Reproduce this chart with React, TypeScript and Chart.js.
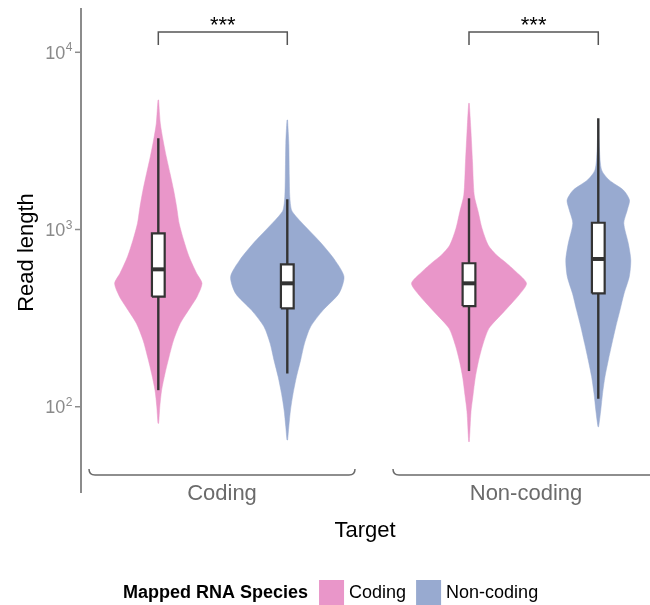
import React, { useEffect, useRef } from "react";
import { Chart, registerables } from "chart.js";

Chart.register(...registerables);

const FONT = "'Liberation Sans', Arial, Helvetica, sans-serif";

// ---- categories / species ----
const categories = ["Coding", "Non-coding"];
const categoryX = [1, 2];
const speciesNames = ["Coding", "Non-coding"];
const speciesColors = ["#E996C9", "#98AAD0"];
const legendTitle = "Mapped RNA Species";
const xTitle = "Target";
const yTitle = "Read length";

// ---- violin positions (category + dodge) and species ----
const violinX = [0.7905, 1.2148, 1.8125, 2.2378];
const violinSpecies = [0, 1, 0, 1];

// ---- violin profiles: read length values and relative density (half width) ----
const codingCodingValues = [5383, 3974, 3200, 2576, 2075, 1671, 1345, 1084, 873, 702, 566, 497, 418, 367, 296, 238, 191, 154, 124, 100, 80.6];
const codingCodingDensity = [0.3, 2, 4.7, 8, 11.7, 15.3, 18.3, 20.8, 25.3, 30.8, 38.3, 43.7, 38.8, 32.5, 22, 15.3, 10.7, 6.7, 3.3, 1.5, 0.3];

const codingNonValues = [4150, 3062, 1986, 1531, 1289, 1181, 1037, 836, 673, 542, 436, 351, 283, 228, 183, 148, 119, 95.8, 77.1, 64.9];
const codingNonDensity = [0.3, 1.5, 2, 2.5, 4.2, 9, 18.3, 34, 47.5, 56.7, 51.7, 35.8, 23.3, 17.2, 13.3, 9.2, 5.8, 3.2, 1.5, 0.3];

const nonCodingValues = [5154, 3725, 2414, 1565, 1260, 1016, 817, 718, 658, 578, 497, 427, 344, 277, 223, 179, 145, 116, 93.7, 63.5];
const nonCodingDensity = [0.3, 1.8, 3.5, 5.2, 9.2, 13, 19.2, 27.5, 35.8, 47, 57.5, 50, 35, 20, 13.7, 9.3, 6.2, 4, 2, 0.3];

const nonNonValues = [4200, 2810, 2167, 1902, 1671, 1467, 1289, 1084, 836, 673, 542, 436, 351, 283, 228, 183, 148, 119, 95.8, 77.1];
const nonNonDensity = [0.3, 1.2, 3.3, 10.8, 25, 31.2, 29, 25.5, 30, 32.5, 31, 25.8, 21.7, 17.5, 13.7, 10, 6.7, 4.3, 2.5, 0.3];

const violinValues = [codingCodingValues, codingNonValues, nonCodingValues, nonNonValues];
const violinDensity = [codingCodingDensity, codingNonDensity, nonCodingDensity, nonNonDensity];

// ---- box plot statistics ----
const boxLow = [124, 154, 159, 111];
const boxQ1 = [418, 359, 370, 436];
const boxMedian = [596, 497, 497, 682];
const boxQ3 = [952, 636, 645, 1092];
const boxHigh = [3273, 1481, 1500, 4242];

// ---- axes ----
const yTicks = [100, 1000, 10000];
const yMin = 32.6;
const yMax = 17780;
const xMin = 0.5362;
const xMax = 2.4079;

// ---- significance ----
const sigLabel = "***";
const sigPairs = [[0, 1], [2, 3]];
const sigTop = 13000;
const sigLeg = 11000;

// ---- size conversions (data units) ----
const densityToX = 1 / 304;
const boxHalf = 0.021;
const bracketHalf = 0.4375;

function buildDatasets() {
  const ds: any[] = [];
  violinX.forEach((cx, i) => {
    const vals = violinValues[i];
    const dens = violinDensity[i];
    const pts: { x: number; y: number }[] = [];
    for (let k = 0; k < vals.length; k++) pts.push({ x: cx + dens[k] * densityToX, y: vals[k] });
    for (let k = vals.length - 1; k >= 0; k--) pts.push({ x: cx - dens[k] * densityToX, y: vals[k] });
    pts.push(pts[0]);
    const col = speciesColors[violinSpecies[i]];
    ds.push({
      data: pts,
      borderColor: col,
      borderWidth: 0.5,
      backgroundColor: col,
      fill: "shape",
      pointRadius: 0,
      tension: 0.25,
      order: 40,
    });
    ds.push({
      data: [{ x: cx, y: boxLow[i] }, { x: cx, y: boxHigh[i] }],
      borderColor: "#333333",
      borderWidth: 2.4,
      pointRadius: 0,
      fill: false,
      order: 30,
    });
    ds.push({
      data: [
        { x: cx - boxHalf, y: boxQ1[i] },
        { x: cx + boxHalf, y: boxQ1[i] },
        { x: cx + boxHalf, y: boxQ3[i] },
        { x: cx - boxHalf, y: boxQ3[i] },
        { x: cx - boxHalf, y: boxQ1[i] },
      ],
      borderColor: "#333333",
      borderWidth: 2.2,
      backgroundColor: "#ffffff",
      fill: "shape",
      pointRadius: 0,
      tension: 0,
      order: 20,
    });
    ds.push({
      data: [{ x: cx - boxHalf, y: boxMedian[i] }, { x: cx + boxHalf, y: boxMedian[i] }],
      borderColor: "#333333",
      borderWidth: 4,
      pointRadius: 0,
      fill: false,
      order: 10,
    });
  });
  sigPairs.forEach(([a, b]) => {
    ds.push({
      data: [
        { x: violinX[a], y: sigLeg },
        { x: violinX[a], y: sigTop },
        { x: violinX[b], y: sigTop },
        { x: violinX[b], y: sigLeg },
      ],
      borderColor: "#555555",
      borderWidth: 1.5,
      pointRadius: 0,
      fill: false,
      order: 5,
    });
  });
  return ds;
}

const decorPlugin = {
  id: "decor",
  afterDraw(chart: any) {
    const { ctx, chartArea } = chart;
    const xs = chart.scales.x;
    const ys = chart.scales.y;
    ctx.save();

    // y axis line
    ctx.strokeStyle = "#8c8c8c";
    ctx.lineWidth = 2;
    ctx.beginPath();
    ctx.moveTo(chartArea.left, chartArea.top);
    ctx.lineTo(chartArea.left, chartArea.bottom);
    ctx.stroke();

    // ticks + labels 10^n
    yTicks.forEach((t) => {
      const py = ys.getPixelForValue(t);
      ctx.strokeStyle = "#8c8c8c";
      ctx.lineWidth = 1.5;
      ctx.beginPath();
      ctx.moveTo(chartArea.left - 6, py);
      ctx.lineTo(chartArea.left, py);
      ctx.stroke();
      const exp = String(Math.round(Math.log10(t)));
      ctx.fillStyle = "#8a8a8a";
      ctx.textBaseline = "alphabetic";
      ctx.textAlign = "right";
      ctx.font = `12px ${FONT}`;
      const ew = ctx.measureText(exp).width;
      const right = chartArea.left - 8.5;
      ctx.fillText(exp, right, py - 1);
      ctx.font = `18px ${FONT}`;
      ctx.fillText("10", right - ew - 0.5, py + 6.5);
    });

    // y title
    ctx.save();
    ctx.translate(33, (chartArea.top + chartArea.bottom) / 2 + 2);
    ctx.rotate(-Math.PI / 2);
    ctx.fillStyle = "#000000";
    ctx.font = `22px ${FONT}`;
    ctx.textAlign = "center";
    ctx.textBaseline = "alphabetic";
    ctx.fillText(yTitle, 0, 0);
    ctx.restore();

    // category brackets + labels
    const by = chartArea.bottom - 18;
    categoryX.forEach((cx, i) => {
      const x0 = xs.getPixelForValue(cx - bracketHalf);
      const x1 = xs.getPixelForValue(cx + bracketHalf);
      const r = 6;
      ctx.strokeStyle = "#6a6a6a";
      ctx.lineWidth = 1.5;
      ctx.beginPath();
      ctx.moveTo(x0, by - r);
      ctx.quadraticCurveTo(x0, by, x0 + r, by);
      ctx.lineTo(x1 - r, by);
      ctx.quadraticCurveTo(x1, by, x1, by - r);
      ctx.stroke();
      ctx.fillStyle = "#6b6b6b";
      ctx.font = `22px ${FONT}`;
      ctx.textAlign = "center";
      ctx.textBaseline = "alphabetic";
      ctx.fillText(categories[i], xs.getPixelForValue(cx), chartArea.bottom + 7);
    });

    // x title
    ctx.fillStyle = "#000000";
    ctx.font = `22px ${FONT}`;
    ctx.textAlign = "center";
    ctx.fillText(xTitle, 365, chartArea.bottom + 44);

    // significance labels
    sigPairs.forEach(([a, b]) => {
      const mx = (xs.getPixelForValue(violinX[a]) + xs.getPixelForValue(violinX[b])) / 2;
      ctx.fillStyle = "#000000";
      ctx.font = `22px ${FONT}`;
      ctx.textAlign = "center";
      ctx.textBaseline = "alphabetic";
      ctx.fillText(sigLabel, mx, ys.getPixelForValue(sigTop) - 0.5);
    });

    // legend
    let lx = 123;
    const ly = 598;
    ctx.textAlign = "left";
    ctx.textBaseline = "alphabetic";
    ctx.fillStyle = "#000000";
    ctx.font = `bold 18px ${FONT}`;
    ctx.fillText(legendTitle, lx, ly);
    lx += ctx.measureText(legendTitle).width + 11;
    ctx.font = `18px ${FONT}`;
    speciesNames.forEach((name, i) => {
      ctx.fillStyle = speciesColors[i];
      ctx.fillRect(lx, 580, 25, 25);
      lx += 30;
      ctx.fillStyle = "#000000";
      ctx.fillText(name, lx, ly);
      lx += ctx.measureText(name).width + 10;
    });

    ctx.restore();
  },
};

export default function App() {
  const ref = useRef<HTMLCanvasElement | null>(null);
  useEffect(() => {
    if (!ref.current) return;
    const chart = new Chart(ref.current, {
      type: "line",
      data: { datasets: buildDatasets() },
      options: {
        animation: false,
        responsive: false,
        maintainAspectRatio: false,
        events: [],
        layout: { padding: { left: 81, top: 8, right: 0, bottom: 112 } },
        scales: {
          x: { type: "linear", min: xMin, max: xMax, display: false },
          y: { type: "logarithmic", min: yMin, max: yMax, display: false },
        },
        plugins: { legend: { display: false }, tooltip: { enabled: false } },
      },
      plugins: [decorPlugin],
    } as any);
    return () => chart.destroy();
  }, []);
  return (
    <div style={{ position: "fixed", left: 0, top: 0, width: 650, height: 605, background: "#fff" }}>
      <canvas ref={ref} width={650} height={605} style={{ display: "block" }} />
    </div>
  );
}
